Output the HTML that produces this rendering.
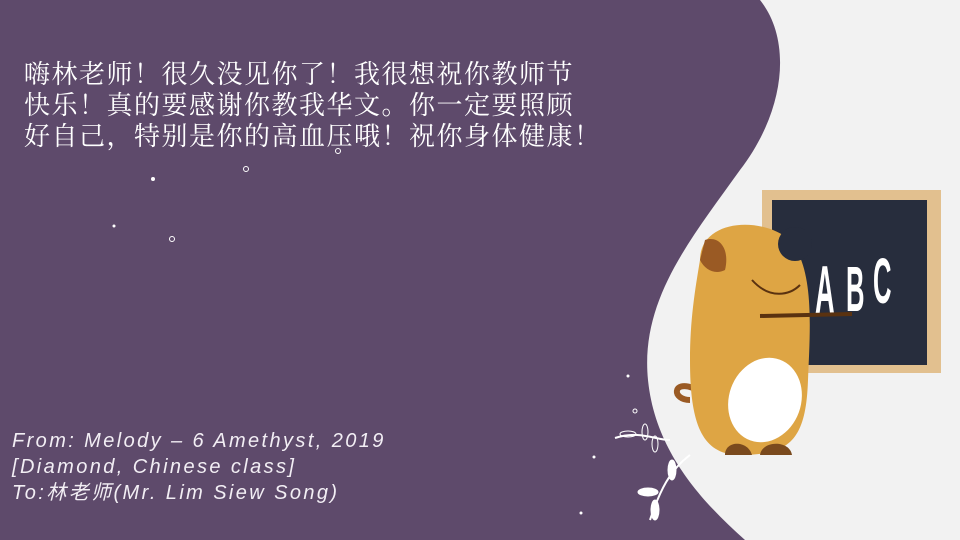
<!DOCTYPE html>
<html><head><meta charset="utf-8"><style>
body{margin:0}
#s{position:relative;width:960px;height:540px;background:#5e4a6b;overflow:hidden}
svg{position:absolute;left:0;top:0}
.msg{position:absolute;left:24px;top:59px;color:#fff;font-family:"Liberation Serif","Noto Serif CJK SC",serif;font-size:26px;line-height:31px;letter-spacing:1.5px;white-space:nowrap}
.from{position:absolute;left:12px;top:428px;color:#f2eef4;font-family:"Liberation Sans","Noto Sans CJK SC",sans-serif;font-style:italic;font-size:20px;line-height:26px;letter-spacing:2.4px;white-space:nowrap}
</style></head><body>
<div id="s">
<svg width="960" height="540">
<path d="M760,0 C792,40 786,110 740,170 C690,240 640,300 648,380 C655,450 700,500 745,540 L960,540 L960,0 Z" fill="#f2f2f2"/>
<g fill="#fff">
<circle cx="153" cy="179" r="2"/><circle cx="114" cy="226" r="1.5"/><circle cx="246" cy="169" r="2.5" fill="none" stroke="#fff"/><circle cx="172" cy="239" r="2.5" fill="none" stroke="#fff"/><circle cx="338" cy="151" r="2.5" fill="none" stroke="#fff"/><circle cx="628" cy="376" r="1.5"/><circle cx="635" cy="411" r="2" fill="none" stroke="#fff"/><circle cx="594" cy="457" r="1.5"/><circle cx="581" cy="513" r="1.5"/>
</g>
<g>
<rect x="762" y="190" width="179" height="183" fill="#e2c08f"/>
<rect x="772" y="200" width="155" height="165" fill="#272d3d"/>
<g font-family="Liberation Sans, sans-serif" font-weight="bold" fill="#fff">
<text transform="translate(815,313) scale(0.8,2)" font-size="34">A</text>
<text transform="translate(846,311) scale(0.8,2)" font-size="32">B</text>
<text transform="translate(873,303) scale(0.8,2)" font-size="32">C</text>
</g>
</g>
<g>
<path d="M693,388 C672,380 672,400 690,400" stroke="#9a5a24" stroke-width="6" fill="none"/>
<path d="M700,260 C700,220 760,215 790,240 C815,270 810,330 808,380 C806,440 790,455 740,455 C700,455 690,420 690,360 C690,320 695,290 700,260Z" fill="#dea544"/>
<ellipse cx="765" cy="400" rx="36" ry="43" fill="#fff" transform="rotate(20 765 400)"/>
<path d="M725,455 C725,440 748,440 752,455Z M760,455 C762,440 790,440 792,455Z" fill="#7a4a1e"/>
<path d="M705,240 C720,235 730,250 725,270 C715,275 705,270 700,260Z" fill="#9a5a24"/>
<circle cx="795" cy="244" r="17" fill="#272d3d"/>
<path d="M752,280 C770,300 790,295 800,285" stroke="#5a3210" stroke-width="2" fill="none"/>
<line x1="760" y1="316" x2="852" y2="314" stroke="#5a3210" stroke-width="4"/>
</g>
<g fill="#fff" stroke="#fff">
<path d="M615,438 C640,430 655,440 670,440" fill="none" stroke-width="2"/>
<ellipse cx="628" cy="434" rx="8" ry="3" fill="none"/><ellipse cx="645" cy="432" rx="3" ry="8" fill="none"/><ellipse cx="655" cy="444" rx="3" ry="8" fill="none"/>
<path d="M650,520 C660,490 670,470 690,455" fill="none" stroke-width="2"/>
<ellipse cx="648" cy="492" rx="10" ry="4"/><ellipse cx="672" cy="470" rx="4" ry="10"/><ellipse cx="655" cy="510" rx="4" ry="10"/>
</g>
</svg>
<div class="msg">嗨林老师！很久没见你了！我很想祝你教师节<br>快乐！真的要感谢你教我华文。你一定要照顾<br>好自己，特别是你的高血压哦！祝你身体健康！</div>
<div class="from">From: Melody – 6 Amethyst, 2019<br>[Diamond, Chinese class]<br>To:林老师(Mr. Lim Siew Song)</div>
</div>
</body></html>
